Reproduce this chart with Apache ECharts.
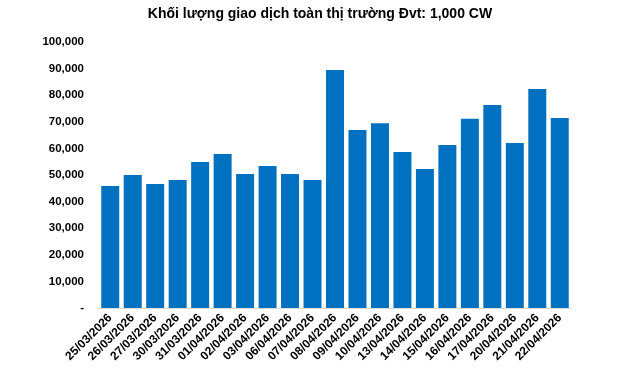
<!DOCTYPE html>
<html>
<head>
<meta charset="utf-8">
<script src="https://cdn.jsdelivr.net/npm/echarts@6/dist/echarts.min.js"></script>
<style>
html, body { margin: 0; padding: 0; background: #fff; }
#chart { width: 640px; height: 368px; }
</style>
</head>
<body>
<div id="chart"></div>
<script>
var titleText = 'Khối lượng giao dịch toàn thị trường Đvt: 1,000 CW';
var dates = ['25/03/2026', '26/03/2026', '27/03/2026', '30/03/2026', '31/03/2026', '01/04/2026', '02/04/2026',
    '03/04/2026', '06/04/2026', '07/04/2026', '08/04/2026', '09/04/2026', '10/04/2026', '13/04/2026',
    '14/04/2026', '15/04/2026', '16/04/2026', '17/04/2026', '20/04/2026', '21/04/2026', '22/04/2026'];
var volume = [45900, 50000, 46600, 48100, 54900, 57900, 50400, 53400, 50400, 48100, 89500,
    66900, 69500, 58600, 52300, 61300, 71100, 76300, 62000, 82300, 71400];
var yMin = 0, yMax = 100000, yStep = 10000;

var myChart = echarts.init(document.getElementById('chart'));
var option = {
    animation: false,
    title: {
        text: titleText,
        left: 'center',
        top: 2,
        textStyle: {
            fontFamily: 'Liberation Sans, Arial, sans-serif',
            fontSize: 14,
            fontWeight: 'bold',
            color: '#000'
        }
    },
    grid: {
        left: 99,
        right: 69,
        top: 42,
        bottom: 60
    },
    xAxis: {
        type: 'category',
        data: dates,
        axisLine: { lineStyle: { color: '#d9d9d9', width: 1 } },
        axisTick: { show: false },
        axisLabel: {
            interval: 0,
            rotate: 45,
            margin: 8,
            color: '#000',
            fontFamily: 'Liberation Sans, Arial, sans-serif',
            fontSize: 12,
            fontWeight: 'bold'
        }
    },
    yAxis: {
        type: 'value',
        min: yMin,
        max: yMax,
        interval: yStep,
        axisLine: { show: false },
        axisTick: { show: false },
        splitLine: { show: false },
        axisLabel: {
            margin: 15,
            color: '#000',
            fontFamily: 'Liberation Sans, Arial, sans-serif',
            fontSize: 11.5,
            fontWeight: 'bold',
            formatter: function (v) {
                if (v === 0) return '-';
                return v.toLocaleString('en-US');
            }
        }
    },
    series: [
        {
            type: 'bar',
            data: volume,
            barCategoryGap: '20%',
            itemStyle: { color: '#0070c0' }
        }
    ]
};
myChart.setOption(option);
</script>
</body>
</html>
